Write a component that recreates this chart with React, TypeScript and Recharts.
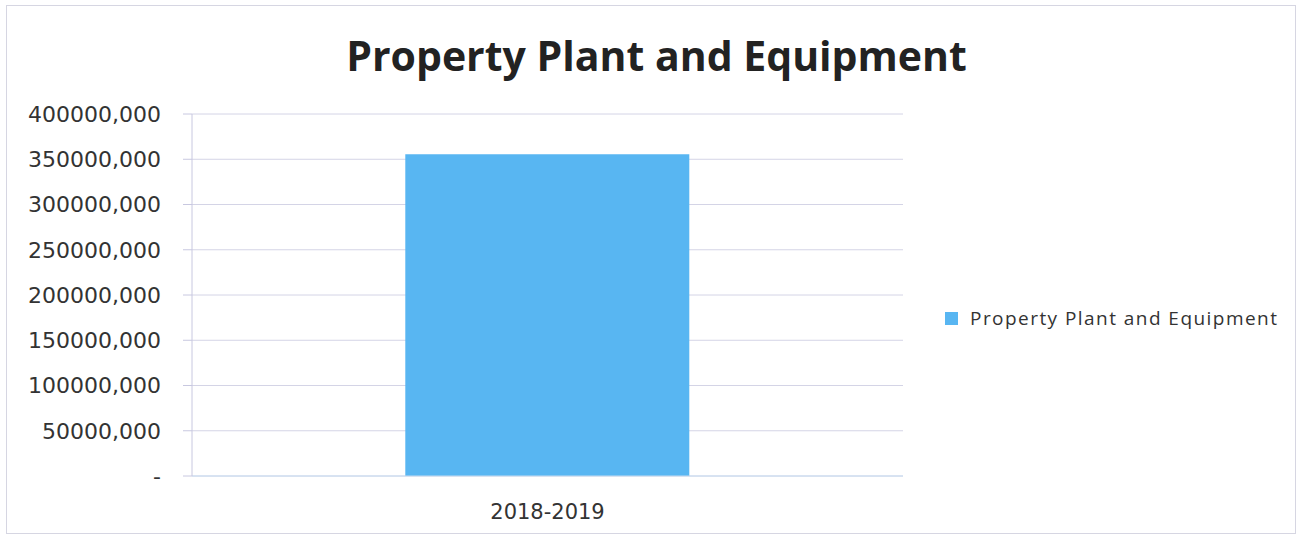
import React from "react";
import { BarChart, Bar, XAxis, YAxis, CartesianGrid, Legend } from "recharts";

const categories = ["2018-2019"];
const ppeValues = [355500000];
const yTicks = [0, 50000000, 100000000, 150000000, 200000000, 250000000, 300000000, 350000000, 400000000];
const seriesName = "Property Plant and Equipment";
const chartTitle = "Property Plant and Equipment";

const data = categories.map((c, i) => ({ period: c, ppe: ppeValues[i] }));

const fmt = (v: number) => {
  if (v === 0) return "-";
  const hi = Math.floor(v / 1000);
  const lo = String(v % 1000).padStart(3, "0");
  return `${hi},${lo}`;
};

const legendRender = () => (
  <div style={{ display: "flex", alignItems: "center", fontFamily: "'Open Sans', sans-serif", fontSize: 19, color: "#333", letterSpacing: 1.45 }}>
    <span style={{ display: "inline-block", width: 13, height: 13, background: "#58b6f2", marginRight: 12 }} />
    <span>{seriesName}</span>
  </div>
);

export default function App() {
  return (
    <div style={{ position: "absolute", left: 0, top: 0, width: 1301, height: 540, background: "#fff" }}>
      <div style={{ position: "absolute", left: 6, top: 5, width: 1290, height: 529, border: "1px solid #d6d6e2", boxSizing: "border-box" }} />
      <div style={{ position: "absolute", left: 0, top: 27, width: 1313, textAlign: "center", fontFamily: "'Open Sans', sans-serif", fontWeight: 700, fontSize: 41, color: "#222" }}>
        {chartTitle}
      </div>
      <BarChart
        width={1301}
        height={540}
        data={data}
        margin={{ top: 114, right: 398, left: 0, bottom: 24 }}
        barCategoryGap="30%"
        style={{ position: "absolute", left: 0, top: 0 }}
      >
        <CartesianGrid horizontal vertical={false} stroke="#d4d4e6" />
        <XAxis
          dataKey="period"
          height={40}
          tickLine={false}
          axisLine={{ stroke: "#c6dcf0" }}
          tick={{ fontFamily: "'DejaVu Sans', sans-serif", fontSize: 21, fill: "#333" }}
          tickMargin={22}
        />
        <YAxis
          width={192}
          domain={[0, 400000000]}
          ticks={yTicks}
          tickFormatter={fmt}
          interval={0}
          axisLine={{ stroke: "#c8c8e0" }}
          tickLine={{ stroke: "#c8c8e0" }}
          tickSize={9}
          tickMargin={22}
          tick={{ fontFamily: "'DejaVu Sans', sans-serif", fontSize: 22, fill: "#333" }}
        />
        <Bar dataKey="ppe" name={seriesName} fill="#58b6f2" isAnimationActive={false} />
        <Legend
          layout="horizontal"
          align="center"
          verticalAlign="middle"
          content={legendRender}
          wrapperStyle={{ left: 945, top: 305, width: 356 }}
        />
      </BarChart>
    </div>
  );
}
